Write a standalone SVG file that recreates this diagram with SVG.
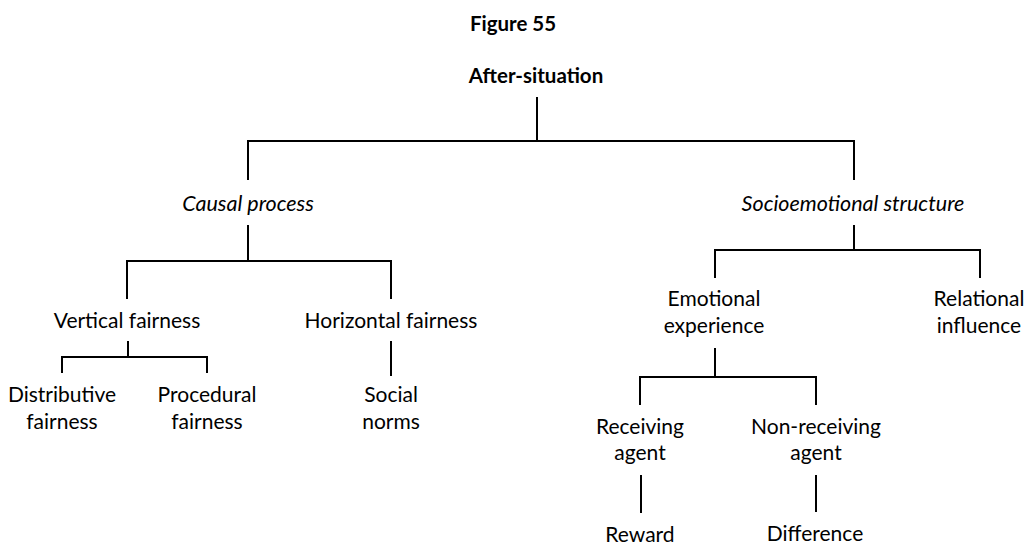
<svg xmlns="http://www.w3.org/2000/svg" width="1027" height="546" viewBox="0 0 1027 546">
<style>
text{font-family:Lato,"Open Sans","Liberation Sans",sans-serif;font-size:21px;fill:#000;text-anchor:middle}
.b{font-weight:bold;font-size:20.5px}
.i{font-style:italic;font-size:21.5px}
.c line{stroke:#000;stroke-width:2;fill:none}
</style>
<rect width="1027" height="546" fill="#fff"/>
<g id="title"><text class="b" x="513" y="31">Figure 55</text></g>
<g id="n-after"><text class="b" x="536" y="83">After-situation</text></g>
<g id="n-causal"><text class="i" x="248" y="211">Causal process</text></g>
<g id="n-socio"><text class="i" x="853" y="211">Socioemotional structure</text></g>
<g id="n-vertical"><text x="127" y="328">Vertical fairness</text></g>
<g id="n-horizontal"><text x="391" y="328">Horizontal fairness</text></g>
<g id="n-distributive"><text x="62" y="402">Distributive</text><text x="62" y="429">fairness</text></g>
<g id="n-procedural"><text x="207" y="402">Procedural</text><text x="207" y="429">fairness</text></g>
<g id="n-social"><text x="391" y="402">Social</text><text x="391" y="429">norms</text></g>
<g id="n-emotional"><text x="714" y="306">Emotional</text><text x="714" y="333">experience</text></g>
<g id="n-relational"><text x="979" y="306">Relational</text><text x="979" y="333">influence</text></g>
<g id="n-receiving"><text x="640" y="434">Receiving</text><text x="640" y="460">agent</text></g>
<g id="n-nonreceiving"><text x="816" y="434">Non-receiving</text><text x="816" y="460">agent</text></g>
<g id="n-reward"><text x="640" y="542">Reward</text></g>
<g id="n-difference"><text x="815" y="541">Difference</text></g>
<g id="connectors" class="c">
<line x1="537" y1="97" x2="537" y2="141"/>
<line x1="247" y1="141" x2="855" y2="141"/>
<line x1="248" y1="141" x2="248" y2="180"/>
<line x1="854" y1="141" x2="854" y2="180"/>
<line x1="248" y1="225" x2="248" y2="261"/>
<line x1="126" y1="261" x2="392" y2="261"/>
<line x1="127" y1="261" x2="127" y2="299"/>
<line x1="391" y1="261" x2="391" y2="299"/>
<line x1="128" y1="341" x2="128" y2="357"/>
<line x1="61" y1="357" x2="208" y2="357"/>
<line x1="62" y1="357" x2="62" y2="373"/>
<line x1="207" y1="357" x2="207" y2="373"/>
<line x1="391" y1="341" x2="391" y2="376"/>
<line x1="854" y1="225" x2="854" y2="250"/>
<line x1="714" y1="250" x2="981" y2="250"/>
<line x1="715" y1="250" x2="715" y2="278"/>
<line x1="980" y1="250" x2="980" y2="278"/>
<line x1="715" y1="348" x2="715" y2="377"/>
<line x1="639" y1="377" x2="817" y2="377"/>
<line x1="640" y1="377" x2="640" y2="405"/>
<line x1="816" y1="377" x2="816" y2="405"/>
<line x1="641" y1="475" x2="641" y2="513"/>
<line x1="816" y1="475" x2="816" y2="512"/>
</g>
</svg>
